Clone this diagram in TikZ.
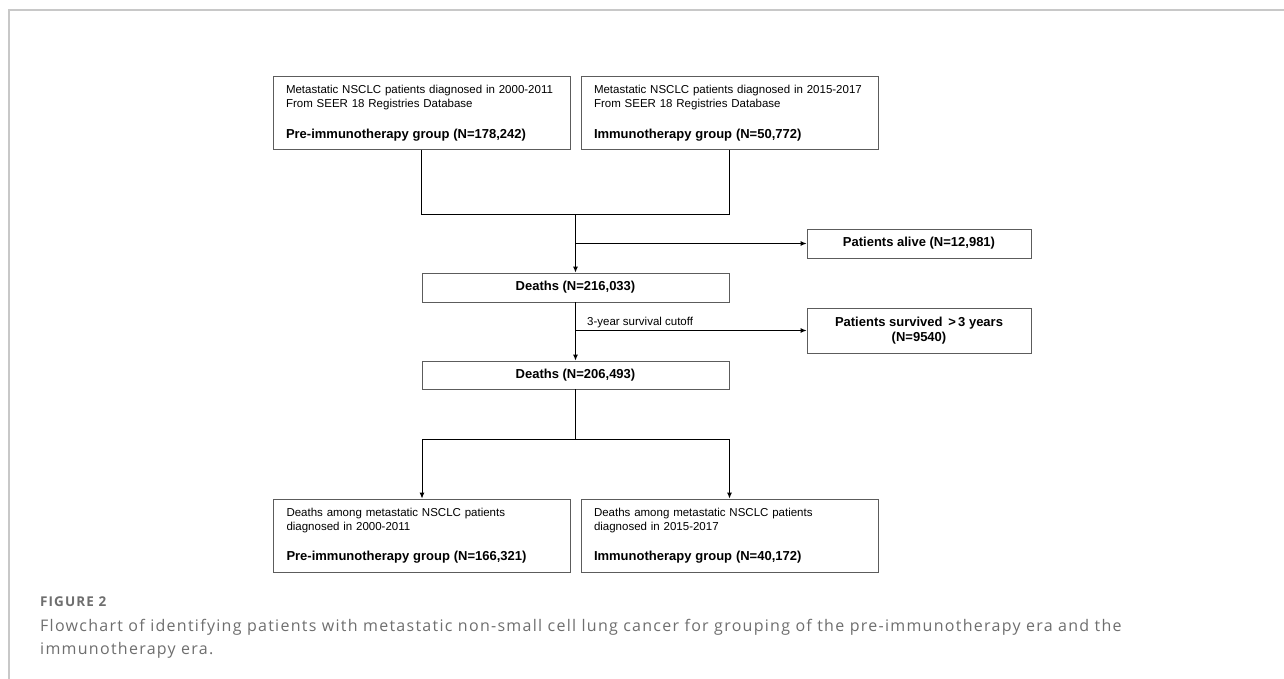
\documentclass[tikz,border=0pt]{standalone}
\usepackage{fontspec}
\setmainfont{Liberation Sans}
\newfontfamily\capfont{Open Sans}[LetterSpace=8]
\usepackage{tikz}
\usetikzlibrary{positioning,calc,arrows.meta}
\usepackage{xcolor}
\definecolor{boxgray}{HTML}{5C5C5C}
\definecolor{capgray}{HTML}{6E6E6E}
\definecolor{framegray}{HTML}{C8C8C8}

\begin{document}
\begin{tikzpicture}[x=1pt, y=-1pt,
    groupbox/.style={rectangle, draw=boxgray, line width=0.9pt, minimum height=73, text width=271, inner xsep=13, inner ysep=0, align=left, font=\fontsize{11.5}{14}\selectfont},
    countbox/.style={rectangle, draw=boxgray, line width=0.9pt, minimum height=29, inner sep=0, align=center, font=\fontsize{13}{15}\selectfont\bfseries},
    arrow/.style={-{Latex[length=6pt,width=5pt]}, line width=0.9pt},
    link/.style={line width=0.9pt}
]
    \useasboundingbox (0,0) rectangle (1284,679);
    \draw[framegray, line width=1.2pt] (9,679) -- (9,10) -- (1284,10);

    % Cohorts
    \node[groupbox] (pre) at (421.5,113) {Metastatic NSCLC patients diagnosed in 2000-2011\\From SEER 18 Registries Database\\[17pt]\fontsize{13}{15}\selectfont\bfseries Pre-immunotherapy group (N=178,242)};
    \node[groupbox] (imm) at (729.5,113) {Metastatic NSCLC patients diagnosed in 2015-2017\\From SEER 18 Registries Database\\[17pt]\fontsize{13}{15}\selectfont\bfseries Immunotherapy group (N=50,772)};

    \coordinate (merge) at (575.5,214);
    \draw[link] (pre.south) |- (merge);
    \draw[link] (imm.south) |- (merge);

    % Exclusions
    \node[countbox, minimum width=307] (deaths1) at (575.5,287.5) {Deaths (N=216,033)};
    \node[countbox, minimum width=224] (alive) at (919,243.5) {Patients alive (N=12,981)};
    \draw[arrow] (merge) -- (deaths1.north);
    \draw[arrow] (merge |- alive.west) -- (alive.west);

    \node[countbox, minimum width=307, minimum height=28] (deaths2) at (575.5,375) {Deaths (N=206,493)};
    \node[countbox, minimum width=224, minimum height=45] (survived) at (919,330.5) {Patients survived \,>\,3 years\\(N=9540)};
    \draw[arrow] (deaths1) -- (deaths2);
    \draw[arrow] (deaths1.south |- survived.west) -- (survived.west);
    \node[anchor=base west, inner sep=0, font=\fontsize{11.5}{14}\selectfont] (cutoff) at (587,325) {3-year survival cutoff};

    % Split
    \node[groupbox] (deathpre) at (422,535.5) {Deaths among metastatic NSCLC patients\\diagnosed in 2000-2011\\[16pt]\fontsize{13}{15}\selectfont\bfseries Pre-immunotherapy group (N=166,321)};
    \node[groupbox] (deathimm) at (729.5,535.5) {Deaths among metastatic NSCLC patients\\diagnosed in 2015-2017\\[16pt]\fontsize{13}{15}\selectfont\bfseries Immunotherapy group (N=40,172)};

    \coordinate (split) at (575.5,439);
    \draw[link] (deaths2) -- (split);
    \draw[arrow] (split) -| (deathpre.north);
    \draw[arrow] (split) -| (deathimm.north);

    % Caption
    \node[anchor=base west, inner sep=0, text=capgray, font=\capfont\fontsize{13.5}{15}\selectfont\bfseries] (figlabel) at (40,606) {FIGURE 2};
    \node[anchor=base west, inner sep=0, align=left, text=capgray, font=\capfont\fontsize{16}{23}\selectfont] (caption) at (40,654) {Flowchart of identifying patients with metastatic non-small cell lung cancer for grouping of the pre-immunotherapy era and the\\immunotherapy era.};
\end{tikzpicture}
\end{document}
